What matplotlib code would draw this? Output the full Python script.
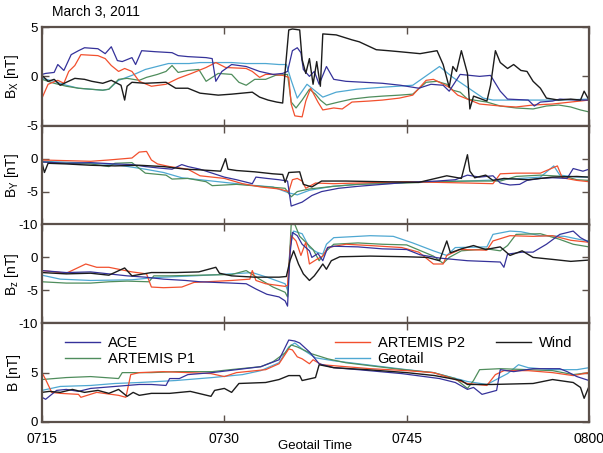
import matplotlib
matplotlib.use("Agg")
import matplotlib.pyplot as plt
from matplotlib.lines import Line2D

plt.rcParams["font.family"] = ["Liberation Sans", "DejaVu Sans"]
plt.rcParams["axes.unicode_minus"] = False

# time axis: minutes after 07:15 (Geotail time)
XTICKS = [0, 15, 30, 45]
XTICK_LABELS = ["0715", "0730", "0745", "0800"]

SERIES = ["ACE", "ARTEMIS P1", "ARTEMIS P2", "Geotail", "Wind"]
COLORS = {"ACE": "#35329a", "ARTEMIS P1": "#4f8d5c", "ARTEMIS P2": "#f2502e",
          "Geotail": "#4fa8d2", "Wind": "#1c1c1c"}

# ---- Bx ----
ace_bx_t = [0, 0.3, 1, 1.3, 1.8, 2.4, 3, 3.5, 4.6, 5.2, 5.7, 6.2, 6.6, 7.4, 7.7, 8.2, 9.3, 10.7, 11.2, 12, 13.5, 14, 14.3, 14.8, 15.6, 16.8, 17.9, 19, 19.8, 20.2, 20.6, 21, 21.3, 21.5, 22, 22.4, 22.8, 23.4, 24, 25, 26.5, 28, 29.5, 31, 32, 33, 33.5, 34.4, 36, 36.9, 37.7, 38.3, 40, 40.5, 41, 42, 42.6, 44, 45]
ace_bx = [0.2, 0.3, 0.4, 1.2, 0.6, 2.2, 2.6, 2.9, 2.8, 2.3, 3.0, 1.6, 1.5, 1.9, 1.2, 2.6, 2.5, 2.4, 2.1, 2.0, 1.9, 1.8, -0.5, 0.5, 1.2, 1.0, 0.5, 0.2, 0.3, 0.5, 2.6, 2.9, 2.4, 0.7, 0.0, 0.5, -0.8, 1.0, -0.3, -0.5, -0.6, -0.7, -0.9, -1.2, -0.8, -0.9, -1.5, 0.2, 0.0, 0.1, -1.5, -2.3, -2.4, -3.0, -2.6, -2.5, -2.3, -2.4, -2.4]
p2_bx_t = [0, 0.5, 1.3, 1.8, 2.2, 2.7, 3.2, 4.6, 5.2, 5.7, 6.3, 6.8, 7.4, 8, 9, 10.2, 11.2, 12.3, 13.5, 14.3, 15.1, 16.8, 17.3, 17.9, 18.4, 19, 19.8, 20.3, 20.5, 20.8, 21.4, 21.7, 22.1, 22.7, 23.1, 24, 24.7, 25.5, 26.9, 28, 29.4, 30.5, 31.6, 32.2, 32.7, 33.5, 34.2, 35, 36, 37.7, 39, 40.4, 42, 43.5, 45]
p2_bx = [-2.2, -0.8, -0.4, -0.7, 0.5, 1.1, 2.2, 2.1, 1.8, 1.1, 0.5, 0.8, 0.5, -0.5, -1.0, -0.8, -0.2, 0.3, 0.9, 1.4, 0.9, 0.8, 0.5, -0.1, 0.2, 0.2, 0.1, -0.1, -2.8, -4.0, -4.1, -2.5, -1.2, -2.6, -3.4, -3.2, -3.3, -2.6, -2.5, -2.4, -2.2, -1.9, -0.4, -0.3, -0.6, -1.1, -1.9, -2.3, -2.8, -3.0, -3.1, -2.9, -2.8, -2.6, -2.4]
p1_bx_t = [0, 1, 2, 3, 4, 5, 5.5, 6.3, 7, 8, 8.6, 9.5, 10.2, 10.7, 11.2, 12, 12.9, 13.5, 14.5, 15.6, 16.2, 16.8, 17.5, 18.4, 19.2, 20.2, 20.5, 20.9, 21.4, 22, 22.5, 22.9, 23.4, 24.4, 25.5, 26.9, 28, 29.4, 30.5, 31.6, 32.5, 33.3, 33.8, 34.4, 35, 36.6, 37.7, 39, 40.4, 41.5, 42.5, 43.5, 44.3, 45]
p1_bx = [-0.3, -0.7, -1.0, -1.2, -1.3, -1.4, -1.3, -0.3, -0.2, -0.4, -0.1, 0.2, 0.5, 1.1, 0.4, 0.6, 0.7, -0.5, 0.3, 0.2, -0.6, -0.9, -0.3, -0.3, 0.1, 0.2, -2.6, -3.2, -2.4, -1.3, -1.8, -2.4, -2.9, -2.6, -2.3, -2.1, -2.0, -1.9, -1.8, -0.6, -0.5, -0.8, -1.4, -1.6, -2.3, -2.6, -3.0, -3.2, -3.3, -3.0, -2.9, -3.1, -3.4, -3.6]
geo_bx_t = [0, 1, 2, 3, 4, 5, 5.5, 6.3, 7.4, 8.5, 10.4, 12.1, 13, 14, 15.6, 16.8, 18.4, 19.5, 20.1, 20.5, 21, 21.8, 23.1, 24.2, 25.9, 28, 30.5, 32.7, 33.8, 36.3, 37.1, 40, 42.6, 45]
geo_bx = [-0.2, -0.5, -0.9, -1.2, -1.3, -1.4, -1.3, -0.4, 0.1, 0.7, 1.3, 1.3, 1.4, 1.4, 1.4, 1.3, 1.3, 1.2, 1.2, -0.4, -2.2, -0.8, -2.1, -1.6, -1.3, -1.1, -0.9, 1.0, -0.1, -2.2, -2.4, -2.4, -2.4, -2.3]
wind_bx_t = [0, 0.5, 1, 1.5, 2, 2.7, 3.5, 4.1, 5, 5.7, 6.5, 6.8, 7.0, 7.4, 8.5, 10.2, 11, 12, 13, 14.5, 15.6, 17.3, 17.9, 18.6, 19.3, 19.8, 20.0, 20.3, 20.6, 21.2, 21.4, 21.7, 22.0, 22.3, 22.6, 22.9, 23.1, 24.2, 25.5, 26.1, 27.5, 28.5, 29.4, 31.1, 32.5, 33.0, 33.5, 33.8, 34.1, 34.5, 35.0, 35.2, 35.5, 36.6, 36.9, 37.3, 37.7, 38.3, 38.8, 39.4, 39.9, 40.4, 41.0, 41.5, 42.5, 43.5, 44.3, 44.6, 45]
wind_bx = [0.1, -0.5, -0.3, -0.9, -0.6, -0.2, -0.3, -0.5, -0.7, -0.4, -0.9, -2.4, -1.0, -0.6, -0.7, -0.6, -1.2, -1.2, -1.7, -1.9, -1.8, -1.6, -2.1, -2.4, -2.6, -2.7, 0.5, 4.7, 4.8, 4.7, 1.7, 0.3, 1.8, -0.8, 1.5, -1.0, 4.3, 4.2, 3.7, 3.5, 2.7, 2.6, 2.5, 2.3, 2.6, 1.2, -1.1, 1.0, 0.5, 2.6, 0.3, -3.3, -2.0, -2.5, -0.9, 2.6, 1.4, 0.8, 1.2, 0.6, 0.5, -0.5, -1.2, -2.2, -2.4, -2.3, -2.4, -1.5, -2.4]

# ---- By ----
ace_by_t = [0, 2, 4, 6, 7.4, 8.5, 9.5, 10.7, 11.5, 12, 13, 14, 15, 16, 17.3, 17.6, 18.5, 19.5, 20.2, 20.5, 21.4, 22.2, 23, 24.4, 26, 28, 30, 32.5, 34, 35, 36, 37.1, 37.7, 38.5, 39.3, 39.9, 41, 42, 43.2, 43.7, 44.5, 45]
ace_by = [-0.5, -0.7, -0.6, -0.8, -0.9, -1.2, -1.4, -1.6, -0.9, -1.2, -1.6, -2.2, -2.8, -3.2, -3.8, -2.8, -3.0, -3.2, -3.4, -7.2, -6.6, -5.6, -5.0, -4.5, -4.2, -3.9, -3.6, -3.4, -3.2, -2.5, -2.8, -2.6, -3.7, -4.0, -3.9, -3.3, -3.0, -2.9, -3.0, -1.5, -1.9, -1.6]
p2_by_t = [0, 2, 4, 5.5, 7.4, 8, 8.6, 9.0, 9.5, 10.5, 12, 13, 15, 16.5, 18, 19.5, 20.3, 20.6, 21.0, 21.4, 21.7, 22.5, 24, 26, 28, 30, 32.5, 35, 37.1, 37.7, 39, 41, 42.4, 42.8, 44, 45]
p2_by = [-0.2, -0.3, -0.4, -0.2, 0.1, 1.0, 1.1, -0.2, -0.8, -1.2, -1.6, -2.6, -3.0, -3.8, -4.3, -4.6, -5.0, -3.2, -3.0, -3.4, -4.5, -3.7, -3.8, -3.7, -3.6, -3.5, -3.6, -3.7, -3.8, -2.3, -2.2, -2.2, -1.1, -2.9, -3.3, -3.5]
p1_by_t = [0, 2, 4, 5.5, 6, 7.4, 8.5, 10.2, 10.7, 12, 13.5, 14, 16, 18, 20.0, 20.5, 21, 22, 24, 26, 28, 30, 32.5, 35, 37.7, 39, 41, 43, 44, 45]
p1_by = [-0.5, -0.7, -0.8, -1.2, -0.7, -0.6, -2.2, -2.5, -3.1, -3.0, -3.5, -4.1, -3.9, -4.2, -4.5, -5.8, -5.0, -4.6, -4.2, -3.9, -3.8, -3.7, -3.5, -3.4, -3.4, -2.7, -2.5, -2.7, -3.2, -3.3]
geo_by_t = [0, 3, 6, 8.5, 10, 11.5, 13.5, 15, 17, 19, 20.3, 21, 22, 23.9, 26, 29, 32, 35, 37.7, 41, 42.1, 42.6, 44, 45]
geo_by = [-0.4, -0.6, -0.9, -1.6, -2.1, -2.9, -3.3, -3.6, -4.0, -4.3, -5.2, -5.5, -4.8, -4.2, -3.9, -3.6, -3.5, -3.4, -3.2, -2.8, -1.1, -2.5, -2.8, -2.8]
wind_by_t = [0, 0.2, 0.5, 2, 4, 6, 8, 10, 11.8, 13, 14.7, 15.1, 15.3, 16, 17.5, 19, 19.8, 20.0, 20.3, 21.2, 21.5, 22.2, 23, 25, 28, 31, 33.3, 34.5, 35.0, 35.2, 35.6, 36.5, 37.1, 38, 40, 42, 44, 45]
wind_by = [-0.6, -2.1, -0.7, -0.8, -1.0, -1.1, -1.0, -1.2, -1.6, -1.7, -1.9, 0.0, -1.6, -1.8, -2.0, -2.3, -2.4, -3.6, -2.1, -2.0, -3.9, -4.3, -3.4, -3.4, -3.5, -3.6, -2.6, -3.0, 0.6, -1.9, -2.9, -2.5, -3.3, -3.0, -3.2, -2.8, -2.7, -2.8]

# ---- Bz ----
ace_bz_t = [0, 2, 4, 5.5, 7, 8.5, 10, 11.8, 13, 15.6, 16.8, 17.6, 18.5, 19.5, 20.0, 20.2, 20.4, 20.6, 21, 21.4, 22, 22.2, 22.7, 23.1, 23.5, 24, 26, 28, 30, 31.1, 32.7, 35, 37.7, 38, 38.3, 39.5, 40.4, 41.5, 42.6, 43.7, 44.3, 45]
ace_bz = [-2.0, -2.3, -2.2, -2.5, -2.8, -3.0, -3.3, -3.5, -3.7, -3.9, -4.0, -4.8, -5.6, -6.0, -6.6, -7.4, 0.5, 3.8, 3.3, 2.0, 1.0, 0.0, 0.6, -0.5, 1.5, 1.7, 1.6, 1.3, 1.2, 0.4, -0.1, -0.5, -0.7, -1.5, 0.5, 0.8, 0.8, 2.0, 3.5, 4.0, 3.0, 2.3]
p2_bz_t = [0, 2, 3.6, 4.5, 5.5, 7.4, 8.6, 9, 10, 11.5, 12.5, 15.6, 17.1, 17.3, 17.6, 18.4, 20.0, 20.2, 20.5, 20.9, 21.3, 21.7, 22.0, 22.6, 23.1, 23.5, 25, 27, 29.6, 31, 32.2, 33, 33.3, 34.4, 36.6, 37.1, 38.5, 40.4, 42, 43.5, 45]
p2_bz = [-2.0, -2.4, -1.0, -1.5, -1.5, -2.2, -2.5, -4.5, -4.6, -4.5, -3.8, -3.5, -3.3, -2.0, -3.5, -4.0, -4.4, -4.2, 3.3, 2.5, 0.3, 2.3, -1.0, -0.3, 0.2, 1.5, 2.0, 1.8, 1.5, 0.8, -1.0, -1.0, 0.3, 1.2, 1.1, 2.5, 3.3, 3.2, 3.3, 2.6, 2.3]
p1_bz_t = [0, 2, 4, 5.5, 7, 8.8, 9.2, 10.5, 12.9, 15.6, 16.8, 17.9, 19, 20.0, 20.2, 20.5, 20.8, 21.2, 21.7, 22.3, 22.8, 23.4, 24, 26, 28, 30, 32.2, 33, 33.5, 34.5, 36.6, 37.7, 38.3, 39, 41, 42.5, 43.7, 45]
p1_bz = [-3.7, -3.9, -3.9, -3.7, -3.6, -3.7, -2.8, -2.8, -2.7, -2.6, -2.0, -3.3, -4.5, -5.3, -6.0, 5.0, 5.0, 3.2, 2.3, 1.2, -0.5, 1.0, 2.0, 2.2, 2.0, 1.9, 0.2, -0.9, 0.0, 1.0, 1.3, 1.0, 1.8, 3.5, 3.6, 2.8, 2.0, 1.6]
geo_bz_t = [0, 1.5, 4, 7.4, 9, 10, 12.5, 15.6, 17.3, 18.5, 20.0, 20.2, 20.4, 20.7, 21.4, 22, 22.6, 23.1, 23.4, 24, 26, 27, 28.9, 30.5, 32.2, 33.3, 34, 36.6, 37.1, 38.5, 39.4, 41, 43, 44.3, 45]
geo_bz = [-2.7, -3.3, -3.5, -3.4, -3.1, -3.0, -2.8, -2.5, -2.3, -3.0, -4.0, -5.0, 1.5, 4.0, 3.6, 1.5, 0.8, 0.5, 2.0, 3.0, 3.2, 3.3, 3.2, 2.2, 1.0, 0.3, 1.5, 1.6, 3.5, 4.0, 3.9, 3.3, 3.2, 2.7, 2.5]
wind_bz_t = [0, 2, 4, 5.5, 6.8, 7.4, 9, 11, 12.9, 14.3, 14.6, 15.6, 17.5, 19.5, 20.1, 20.4, 20.7, 21.1, 21.5, 22.0, 22.4, 22.8, 23.1, 23.4, 23.8, 24.5, 27, 30, 31.7, 32.7, 33.3, 33.6, 34.5, 35.5, 36.5, 37.7, 38.5, 39.5, 40.4, 42, 43.5, 45]
wind_bz = [-2.3, -2.5, -2.4, -2.7, -1.6, -2.8, -2.3, -2.3, -2.2, -1.5, -2.4, -2.8, -3.0, -3.0, -2.9, -0.5, 1.0, -1.0, -2.5, -3.5, -2.8, -1.8, -1.0, -1.8, -0.5, 0.1, 0.2, 0.1, 0.0, -0.5, 2.5, 0.7, 1.3, 1.8, 1.2, 1.6, 0.3, 1.0, 0.0, -0.3, -0.6, -0.4]

# ---- |B| ----
ace_b_t = [0, 0.3, 1.2, 2, 3, 4, 5, 6, 7, 8, 9, 10.2, 10.5, 11.3, 12, 14, 16, 18, 19.5, 20.3, 20.8, 21.2, 22, 22.8, 24, 26, 29.6, 32.7, 34, 35, 35.5, 36.2, 36.8, 37.4, 37.7, 38.8, 40.4, 42.6, 43.2, 44, 45]
ace_b = [2.5, 2.3, 3.2, 3.3, 3.1, 3.4, 3.5, 3.6, 3.7, 3.8, 3.8, 3.7, 4.4, 4.4, 4.8, 5.0, 5.3, 5.6, 6.3, 8.3, 8.2, 8.0, 7.1, 5.9, 5.5, 5.3, 4.9, 4.4, 4.0, 3.3, 3.5, 2.8, 3.0, 3.2, 5.3, 5.1, 5.4, 5.4, 5.1, 4.6, 4.2]
p2_b_t = [0, 0.3, 0.8, 1.5, 3, 3.2, 4.5, 6.3, 6.9, 7.3, 8, 10, 12, 13.9, 15, 16, 18.4, 19.5, 20.3, 20.6, 21.0, 21.4, 22, 22.3, 23, 25, 27, 30, 32.2, 33.5, 35, 36.6, 37.3, 38, 40, 42, 43.7, 45]
p2_b = [5.0, 4.3, 3.0, 2.9, 2.8, 2.5, 3.0, 2.7, 2.5, 4.8, 5.0, 5.1, 5.0, 4.9, 4.6, 5.0, 5.3, 5.9, 7.4, 7.3, 6.6, 6.4, 5.9, 6.3, 5.8, 5.6, 5.4, 5.2, 5.0, 4.5, 3.9, 3.7, 4.8, 5.2, 5.2, 5.0, 4.7, 5.0]
p1_b_t = [0, 2, 4, 6.3, 6.6, 9, 11, 14, 15.5, 18, 19, 20, 20.5, 21, 22.2, 23.5, 25, 27, 29, 32.2, 34, 35, 35.5, 36, 37.7, 40, 42, 43.7, 45]
p1_b = [4.3, 4.5, 4.6, 4.4, 5.0, 5.0, 5.1, 5.1, 5.3, 5.6, 6.1, 7.0, 7.8, 7.6, 6.9, 6.4, 6.0, 5.7, 5.4, 5.0, 4.4, 3.4, 4.2, 5.3, 5.4, 5.3, 5.2, 4.8, 5.0]
geo_b_t = [0, 1.5, 4, 6, 8, 11, 14, 16.5, 18, 19.5, 20.3, 20.8, 21.5, 22.5, 24, 26.7, 30, 32.2, 35, 36.6, 38.3, 39.2, 40, 42, 44, 45]
geo_b = [3.2, 3.6, 3.7, 3.9, 4.0, 4.2, 4.5, 4.8, 5.2, 6.0, 7.6, 8.0, 7.3, 6.5, 6.2, 5.8, 5.3, 5.0, 4.1, 3.8, 4.9, 5.8, 5.5, 5.3, 5.3, 5.5]
wind_b_t = [0, 0.6, 1.5, 2.5, 3.5, 4.6, 5.5, 6.3, 7, 7.5, 8, 9, 10.5, 12.2, 13.9, 14.2, 15, 15.6, 16.2, 18.4, 19.5, 20.3, 21.2, 21.4, 22.5, 22.8, 24, 26.7, 30, 32.3, 34.5, 35, 37, 40.4, 42, 43.7, 44.3, 44.6, 45]
wind_b = [3.0, 3.1, 3.0, 3.3, 3.0, 3.2, 2.9, 3.3, 2.6, 3.0, 2.7, 2.9, 2.9, 3.1, 2.6, 3.2, 3.4, 3.0, 3.9, 4.0, 4.3, 4.7, 4.7, 4.2, 4.5, 5.8, 5.5, 5.3, 5.0, 4.7, 4.2, 3.8, 3.8, 3.9, 4.3, 4.0, 3.5, 2.4, 3.6]

PANELS = [
    {"ylabel": "B$_\\mathregular{X}$ [nT]", "ylim": (-5, 5), "yticks": [-5, 0, 5],
     "data": {"ACE": (ace_bx_t, ace_bx), "ARTEMIS P1": (p1_bx_t, p1_bx), "ARTEMIS P2": (p2_bx_t, p2_bx),
              "Geotail": (geo_bx_t, geo_bx), "Wind": (wind_bx_t, wind_bx)}},
    {"ylabel": "B$_\\mathregular{Y}$ [nT]", "ylim": (-10, 5), "yticks": [-10, -5, 0],
     "data": {"ACE": (ace_by_t, ace_by), "ARTEMIS P1": (p1_by_t, p1_by), "ARTEMIS P2": (p2_by_t, p2_by),
              "Geotail": (geo_by_t, geo_by), "Wind": (wind_by_t, wind_by)}},
    {"ylabel": "B$_\\mathregular{z}$ [nT]", "ylim": (-10, 5), "yticks": [-10, -5, 0],
     "data": {"ACE": (ace_bz_t, ace_bz), "ARTEMIS P1": (p1_bz_t, p1_bz), "ARTEMIS P2": (p2_bz_t, p2_bz),
              "Geotail": (geo_bz_t, geo_bz), "Wind": (wind_bz_t, wind_bz)}},
    {"ylabel": "B [nT]", "ylim": (0, 10), "yticks": [0, 5],
     "data": {"ACE": (ace_b_t, ace_b), "ARTEMIS P1": (p1_b_t, p1_b), "ARTEMIS P2": (p2_b_t, p2_b),
              "Geotail": (geo_b_t, geo_b), "Wind": (wind_b_t, wind_b)}},
]

SPINE = "#5b504a"
W, H = 603, 453
fig = plt.figure(figsize=(W / 100, H / 100), dpi=100)

left, right, top, bottom = 42 / W, 589 / W, 1 - 27 / H, 1 - 422 / H
ph = (top - bottom) / 4
draw_order = ["Geotail", "ARTEMIS P1", "ARTEMIS P2", "ACE", "Wind"]

axes = []
for i, p in enumerate(PANELS):
    ax = fig.add_axes([left, top - (i + 1) * ph, right - left, ph])
    for name in draw_order:
        t, v = p["data"][name]
        ax.plot(t, v, color=COLORS[name], lw=0.9 if name != "Wind" else 1.0)
    ax.set_xlim(0, 45)
    ax.set_ylim(*p["ylim"])
    ax.set_yticks(p["yticks"])
    ax.set_xticks(XTICKS)
    ax.set_ylabel(p["ylabel"], fontsize=10)
    ax.yaxis.set_label_coords(-0.038, 0.5)
    ax.tick_params(direction="in", top=True, right=True, length=5, width=1.0,
                   color=SPINE, labelsize=9.5, pad=3)
    ax.tick_params(axis="x", pad=7)
    if i < 3:
        ax.set_xticklabels([])
    else:
        ax.set_xticklabels(XTICK_LABELS, fontsize=10)
    for s in ax.spines.values():
        s.set_color(SPINE)
        s.set_linewidth(1.6)
    axes.append(ax)

fig.text(315 / W, 1 - 446 / H, "Geotail Time", fontsize=9.5, ha="center", va="center")
fig.text(52 / W, 1 - 12 / H, "March 3, 2011", fontsize=10, va="center", ha="left")

# legend in three columns placed like the original
def handle(name):
    return Line2D([], [], color=COLORS[name], lw=1.0)

legend_cols = [(["ACE", "ARTEMIS P1"], 58), (["ARTEMIS P2", "Geotail"], 328), (["Wind"], 489)]
for names, xpx in legend_cols:
    fig.legend([handle(n) for n in names], names, loc="upper left",
               bbox_to_anchor=(xpx / W, 1 - 329 / H), bbox_transform=fig.transFigure,
               frameon=False, borderpad=0, handlelength=2.4, handletextpad=0.5,
               labelspacing=0.1, fontsize=10.5)

fig.savefig("out.png", dpi=100)
